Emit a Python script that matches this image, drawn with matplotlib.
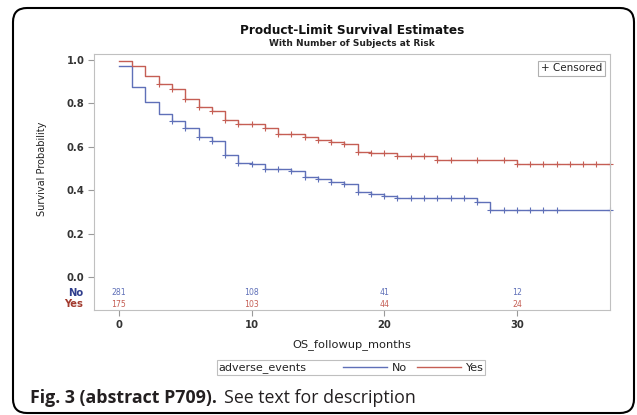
import numpy as np
import matplotlib
matplotlib.use("Agg")
import matplotlib.pyplot as plt
from matplotlib.patches import FancyBboxPatch
from matplotlib.transforms import IdentityTransform, blended_transform_factory
from matplotlib.lines import Line2D
from matplotlib.offsetbox import HPacker

# ---- data ----
no_times = [0, 1, 2, 3, 4, 5, 6, 7, 8, 9, 10, 11, 13, 14, 15, 16, 17, 18, 19, 20, 21, 27, 28]
no_surv = [0.974, 0.874, 0.808, 0.751, 0.720, 0.688, 0.647, 0.628, 0.562, 0.527, 0.519, 0.497,
           0.488, 0.462, 0.452, 0.439, 0.429, 0.393, 0.382, 0.373, 0.363, 0.344, 0.309]
no_cens = [4, 5, 6, 7, 8, 9, 10, 11, 12, 13, 14, 15, 16, 17, 18, 19, 20, 21, 22, 23, 24,
           25, 26, 27, 28, 29, 30, 31, 32, 33, 37]

yes_times = [0, 1, 2, 3, 4, 5, 6, 7, 8, 9, 11, 12, 14, 15, 16, 17, 18, 19, 21, 24, 30]
yes_surv = [0.995, 0.972, 0.928, 0.888, 0.868, 0.822, 0.785, 0.766, 0.723, 0.705, 0.685, 0.659,
            0.645, 0.631, 0.624, 0.613, 0.578, 0.570, 0.556, 0.540, 0.519]
yes_cens = [3, 4, 5, 6, 7, 8, 9, 10, 11, 12, 13, 14, 15, 16, 17, 18, 19, 20, 21, 22, 23, 24,
            25, 27, 29, 30, 31, 32, 33, 34, 35, 36, 37]

end_time = 37
risk_times = [0, 10, 20, 30]
no_risk = [281, 108, 41, 12]
yes_risk = [175, 103, 44, 24]

blue = "#5f70b8"
red = "#c55e54"
blue_dark = "#2f3d8c"
red_dark = "#a23a2e"


def surv_at(times, surv, t):
    i = np.searchsorted(times, t, side="right") - 1
    return surv[i]


fig = plt.figure(figsize=(6.37, 4.15), dpi=100)
ax = fig.add_axes([94 / 637, 1 - 310 / 415, 516 / 637, 256 / 415])

# survival curves
for times, surv, cens, col in [(no_times, no_surv, no_cens, blue),
                               (yes_times, yes_surv, yes_cens, red)]:
    ax.step(times + [end_time], surv + [surv[-1]], where="post", color=col, lw=1.0)
    cy = [surv_at(times, surv, c) for c in cens]
    ax.plot(cens, cy, ls="none", marker="+", ms=5, mew=0.8, color=col, clip_on=False)

ax.set_xlim(-1.88, 37.02)
ax.set_ylim(-0.152, 1.028)
ax.set_xticks([0, 10, 20, 30])
ax.set_yticks([0.0, 0.2, 0.4, 0.6, 0.8, 1.0])
ax.set_yticklabels(["0.0", "0.2", "0.4", "0.6", "0.8", "1.0"])
ax.tick_params(length=4, width=0.8, color="#9a9a9a", labelsize=7.2, labelcolor="#333333", pad=3)
for lab in ax.get_xticklabels() + ax.get_yticklabels():
    lab.set_fontweight("bold")
for sp in ax.spines.values():
    sp.set_color("#c0c0c0")
    sp.set_linewidth(0.8)

ax.set_ylabel("Survival Probability", fontsize=7, color="#222222")
ax.yaxis.set_label_coords(-0.091, 0.5525)
ax.set_xlabel("OS_followup_months", fontsize=8.2, color="#222222", labelpad=7)

# number at risk rows
trans = blended_transform_factory(ax.transAxes, ax.transData)
ax.text(-0.021, -0.072, "No", transform=trans, ha="right", va="center", fontsize=7.2,
        color=blue_dark, fontweight="bold")
ax.text(-0.021, -0.126, "Yes", transform=trans, ha="right", va="center", fontsize=7.2,
        color=red_dark, fontweight="bold")
for t, n1, n2 in zip(risk_times, no_risk, yes_risk):
    ax.text(t, -0.072, str(n1), ha="center", va="center", fontsize=5.6, color=blue)
    ax.text(t, -0.126, str(n2), ha="center", va="center", fontsize=5.6, color=red)

# censored box
ax.text(0.985, 0.963, "+ Censored", transform=ax.transAxes, ha="right", va="top", fontsize=7.5,
        color="#222222",
        bbox=dict(boxstyle="square,pad=0.25", fc="white", ec="#b0b0b0", lw=0.8))

# titles
fig.text(352 / 637, 1 - 30 / 415, "Product-Limit Survival Estimates", ha="center", va="center",
         fontsize=8.7, fontweight="bold", color="#111111")
fig.text(352 / 637, 1 - 44 / 415, "With Number of Subjects at Risk", ha="center", va="center",
         fontsize=6.5, fontweight="bold", color="#222222")

# legend
handles = [Line2D([], [], color=blue, lw=1.0), Line2D([], [], color=red, lw=1.0)]
leg = fig.legend(handles, ["No", "Yes"], title="adverse_events", loc="center",
                 bbox_to_anchor=(351 / 637, 1 - 367.5 / 415), ncol=2, frameon=True,
                 handlelength=4.0, handletextpad=0.4, columnspacing=0.9, borderpad=0.15,
                 fancybox=False, prop={"size": 8})
leg.get_frame().set_edgecolor("#b0b0b0")
leg.get_frame().set_linewidth(0.8)
title = leg.get_title()
title.set_fontsize(8)
title.set_color("#222222")
for txt in leg.get_texts():
    txt.set_color("#222222")
# put title on the same row as the entries
leg._legend_box._children = [HPacker(children=[leg._legend_title_box, leg._legend_handle_box],
                                     pad=0, sep=26, align="center")]

# caption
cap_font = ["Open Sans", "DejaVu Sans"]
t1 = fig.text(30 / 637, 1 - 403 / 415, "Fig. 3 (abstract P709).", ha="left", va="baseline",
              fontsize=12.8, fontweight="bold", family=cap_font, color="#231f20")
fig.canvas.draw()
bb = t1.get_window_extent()
fig.text((bb.x1 + 7) / 637, 1 - 403 / 415, "See text for description", ha="left", va="baseline",
         fontsize=12.8, family=cap_font, color="#231f20")

# rounded outer border
border = FancyBboxPatch((13, 2), 621, 405, boxstyle="round,pad=0,rounding_size=14",
                        transform=IdentityTransform(), fc="none", ec="black", lw=1.5)
fig.patches.append(border)

fig.savefig("out.png", dpi=100)
